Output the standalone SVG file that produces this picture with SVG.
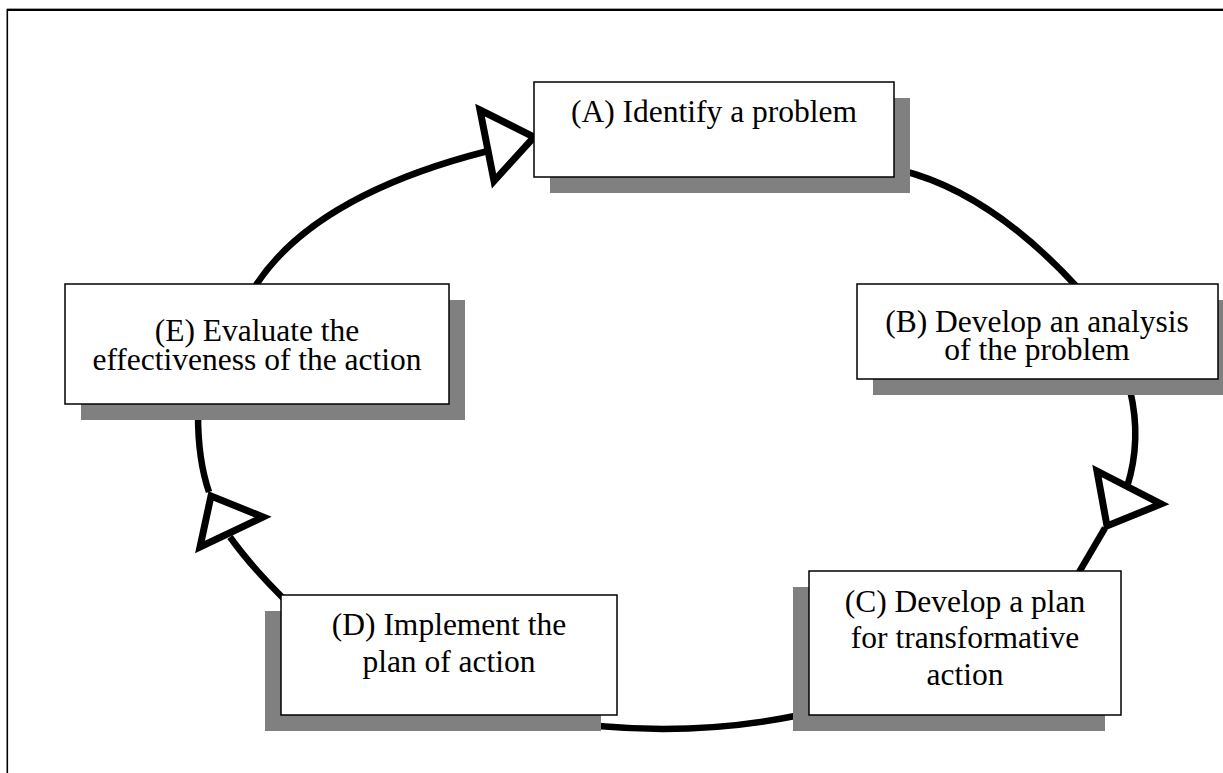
<svg xmlns="http://www.w3.org/2000/svg" width="1223" height="773" viewBox="0 0 1223 773">
<style>
.bg{fill:#ffffff}
.shadow{fill:#808080}
.box{fill:#ffffff;stroke:#000000;stroke-width:1.5}
.t{font-family:"Liberation Serif","Times New Roman",serif;font-size:31.5px;fill:#000000;text-anchor:middle}
.c{fill:none;stroke:#000000;stroke-width:6.5;stroke-linecap:butt}
.ah{fill:#ffffff;stroke:#000000;stroke-width:7;stroke-linejoin:miter}
</style>
<rect class="bg" x="0" y="0" width="1223" height="773"/>
<g id="frame">
<line x1="7" y1="8.5" x2="1223" y2="8.5" stroke="#a0a0a0" stroke-width="1"/>
<line x1="7" y1="10" x2="1223" y2="10" stroke="#000000" stroke-width="2"/>
<line x1="7.3" y1="9" x2="7.3" y2="773" stroke="#000000" stroke-width="1.6"/>
</g>
<g id="connectors">
<path class="c" d="M256,285 Q315,195 488,151"/>
<path class="c" d="M900,170 Q990,192 1078,288"/>
<path class="c" d="M1130,390 Q1142,440 1127,487"/>
<path class="c" d="M1105,528 Q1092,550 1078,574"/>
<path class="c" d="M795,716 Q700,735 598,726"/>
<path class="c" d="M283,598 Q250,565 230,537"/>
<path class="c" d="M209,492 Q198,460 198,415"/>
<polygon class="ah" points="480,110 534,137 494,181"/>
<polygon class="ah" points="1097,471 1161,504 1107,526"/>
<polygon class="ah" points="211,496 263,517 200,547"/>
</g>
<g id="nodeA">
<rect class="shadow" x="550" y="98" width="360" height="95"/>
<rect class="box" x="534" y="82" width="360" height="95"/>
<text class="t" x="714" y="122">(A) Identify a problem</text>
</g>
<g id="nodeB">
<rect class="shadow" x="873" y="300" width="361" height="95"/>
<rect class="box" x="857" y="284" width="361" height="95"/>
<text class="t" x="1037" y="332">(B) Develop an analysis</text>
<text class="t" x="1037" y="360">of the problem</text>
</g>
<g id="nodeC">
<rect class="shadow" x="793" y="587" width="312" height="144"/>
<rect class="box" x="809" y="571" width="312" height="144"/>
<text class="t" x="965" y="612">(C) Develop a plan</text>
<text class="t" x="965" y="648">for transformative</text>
<text class="t" x="965" y="685">action</text>
</g>
<g id="nodeD">
<rect class="shadow" x="265" y="611" width="336" height="120"/>
<rect class="box" x="281" y="595" width="336" height="120"/>
<text class="t" x="449" y="635">(D) Implement the</text>
<text class="t" x="449" y="672">plan of action</text>
</g>
<g id="nodeE">
<rect class="shadow" x="81" y="300" width="384" height="120"/>
<rect class="box" x="65" y="284" width="384" height="120"/>
<text class="t" x="257" y="341">(E) Evaluate the</text>
<text class="t" x="257" y="370">effectiveness of the action</text>
</g>
</svg>
